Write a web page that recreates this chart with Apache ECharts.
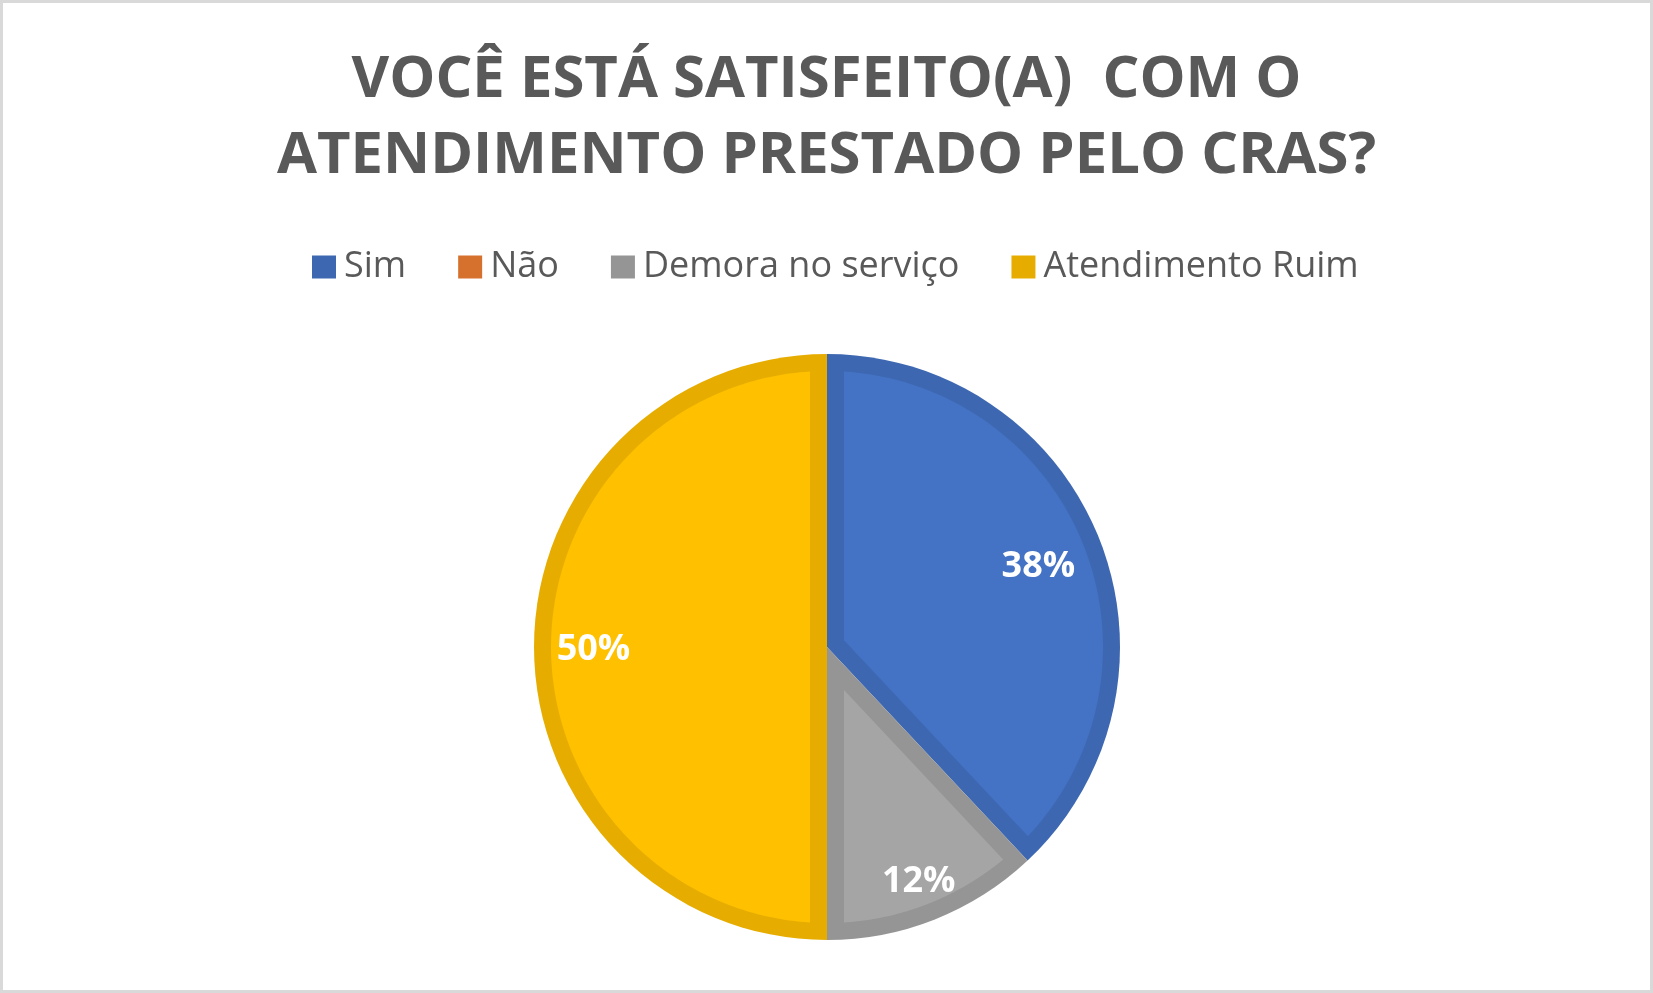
<!DOCTYPE html>
<html>
<head>
<meta charset="utf-8">
<script src="https://cdn.jsdelivr.net/npm/echarts@6/dist/echarts.min.js"></script>
<style>
  html, body { margin: 0; padding: 0; background: #ffffff; }
  #chart { width: 1653px; height: 993px; }
</style>
</head>
<body>
<div id="chart"></div>
<script>
// ---- data ----
const categories = ['Sim', 'Não', 'Demora no serviço', 'Atendimento Ruim'];
const values = [38, 0, 12, 50];
const fillColors = ['#4472C4', '#ED7D31', '#A5A5A5', '#FFC000'];
const edgeColors = ['#3D67B0', '#D5712C', '#959595', '#E6AD00'];
const titleLines = ['VOCÊ ESTÁ SATISFEITO(A)  COM O', 'ATENDIMENTO PRESTADO PELO CRAS?'];

// ---- layout ----
const CX = 827, CY = 647, R = 293, INSET = 17;
const LABEL_RADIUS = [0.776, 0.8, 0.85, 0.797]; // label distance from centre, as a share of R
const LABEL_DY = 3;
const FONT = '"Open Sans", "Noto Sans", sans-serif';

const total = values.reduce((a, b) => a + b, 0);
const cumStarts = [];
values.reduce((acc, v, i) => { cumStarts[i] = acc; return acc + v; }, 0);

const chart = echarts.init(document.getElementById('chart'), null, { renderer: 'canvas' });

function sliceAngles(i) {
  const aS = Math.PI / 2 - 2 * Math.PI * cumStarts[i] / total;
  const aE = Math.PI / 2 - 2 * Math.PI * (cumStarts[i] + values[i]) / total;
  return [aS, aE];
}

function renderInset(params, api) {
  const start = api.value(0);
  const val = api.value(1);
  if (!(val > 0)) return null;
  const aS = Math.PI / 2 - 2 * Math.PI * start / total;
  const aE = Math.PI / 2 - 2 * Math.PI * (start + val) / total;
  const theta = aS - aE;
  const d = INSET, r = R - d;
  const delta = Math.asin(d / r);
  const P = (ang, rad) => [CX + rad * Math.cos(ang), CY - rad * Math.sin(ang)];
  const pts = [];
  if (theta <= Math.PI + 1e-9) {
    const b = (aS + aE) / 2;
    pts.push(P(b, d / Math.sin(theta / 2)));
  } else {
    const n0 = 30;
    const a0 = aE + Math.PI / 2, a1 = aS - Math.PI / 2;
    for (let k = 0; k <= n0; k++) pts.push(P(a0 + (a1 - a0) * k / n0, d));
  }
  const n = 160;
  const s0 = aS - delta, s1 = aE + delta;
  for (let k = 0; k <= n; k++) pts.push(P(s0 + (s1 - s0) * k / n, r));
  return {
    type: 'polygon',
    shape: { points: pts },
    style: { fill: fillColors[params.dataIndex], stroke: null }
  };
}

const option = {
  backgroundColor: '#ffffff',
  animation: false,
  title: {
    text: titleLines.join('\n'),
    left: 'center',
    top: 42,
    padding: 0,
    textStyle: {
      fontFamily: FONT,
      fontSize: 58,
      fontWeight: 'bold',
      color: '#595959',
      lineHeight: 76,
      align: 'center'
    }
  },
  legend: {
    data: categories.map((c, i) => ({ name: c, itemStyle: { color: edgeColors[i] } })),
    left: 312,
    top: 247,
    padding: 0,
    itemWidth: 24,
    itemHeight: 23,
    itemGap: 52,
    icon: 'rect',
    selectedMode: false,
    textStyle: {
      fontFamily: FONT,
      fontSize: 36,
      color: '#595959',
      lineHeight: 40,
      padding: [0, 0, 0, 3]
    }
  },
  graphic: [{
    type: 'rect',
    silent: true,
    z: 100,
    shape: { x: 1.5, y: 1.5, width: 1650, height: 990 },
    style: { fill: null, stroke: '#D9D9D9', lineWidth: 3 }
  }],
  series: [
    {
      name: 'base',
      type: 'pie',
      center: [CX, CY],
      radius: [0, R],
      startAngle: 90,
      clockwise: true,
      silent: true,
      z: 1,
      label: { show: false },
      labelLine: { show: false },
      emphasis: { disabled: true },
      itemStyle: { borderWidth: 0 },
      data: categories.map((c, i) => ({ name: c, value: values[i], itemStyle: { color: edgeColors[i] } }))
    },
    {
      name: 'inset',
      type: 'custom',
      coordinateSystem: 'none',
      silent: true,
      z: 2,
      renderItem: renderInset,
      data: values.map((v, i) => [cumStarts[i], v])
    },
    {
      name: 'labels',
      type: 'pie',
      center: [CX, CY],
      radius: [R * 0.6, R],
      startAngle: 90,
      clockwise: true,
      silent: true,
      z: 3,
      avoidLabelOverlap: false,
      itemStyle: { color: 'rgba(0,0,0,0)', borderWidth: 0 },
      emphasis: { disabled: true },
      labelLine: { show: false },
      label: {
        show: true,
        position: 'inside',
        formatter: p => (p.value > 0 ? Math.round(p.value / total * 100) + '%' : ''),
        color: '#ffffff',
        fontFamily: FONT,
        fontWeight: 'bold',
        fontSize: 36
      },
      labelLayout: params => {
        const i = params.dataIndex;
        const [aS, aE] = sliceAngles(i);
        const mid = (aS + aE) / 2;
        const rr = R * LABEL_RADIUS[i];
        return {
          x: CX + rr * Math.cos(mid),
          y: CY - rr * Math.sin(mid) + LABEL_DY,
          align: 'center',
          verticalAlign: 'middle'
        };
      },
      data: categories.map((c, i) => ({ name: c, value: values[i] }))
    }
  ]
};

chart.setOption(option);
</script>
</body>
</html>
